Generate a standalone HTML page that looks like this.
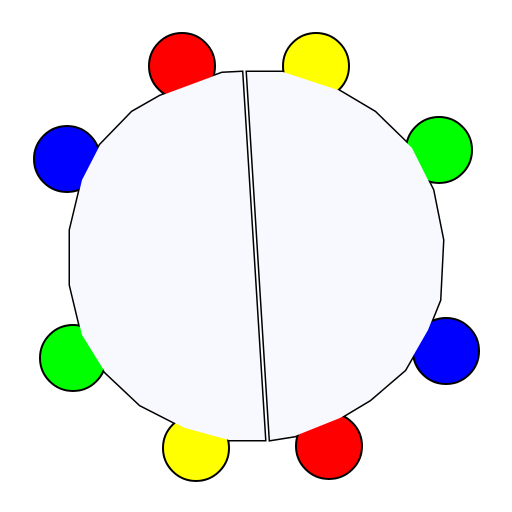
<!DOCTYPE html>
<html><head><style>html,body{margin:0;padding:0;background:#fff;width:512px;height:512px;overflow:hidden}</style></head>
<body>
<svg width="512" height="512" viewBox="0 0 512 512">
<defs>
<polygon id="lh" points="242,72 222,73 160,96 132,112 100,145 82,180 70,230 70,285 82,335 105,372 140,405 185,428 229,440 265,440"/>
<polygon id="rh" points="247,72 283,72 338,90 375,112 412,148 433,190 443,240 440,300 428,330 405,370 370,400 340,418 295,436 270,440"/>
</defs>
<g stroke="#000" stroke-width="3" fill="#f8f8ff">
<use href="#lh"/>
<use href="#rh"/>
</g>
<g stroke="#000" stroke-width="2">
<circle cx="182" cy="66" r="33" fill="#f00"/>
<circle cx="316" cy="66" r="33" fill="#ff0"/>
<circle cx="439" cy="150" r="33" fill="#0f0"/>
<circle cx="446" cy="351" r="33" fill="#00f"/>
<circle cx="329" cy="446" r="33" fill="#f00"/>
<circle cx="196" cy="448" r="33" fill="#ff0"/>
<circle cx="73" cy="358" r="33" fill="#0f0"/>
<circle cx="67" cy="159" r="33" fill="#00f"/>
</g>
<g fill="#f8f8ff" stroke="none">
<use href="#lh"/>
<use href="#rh"/>
</g>
</svg>
</body></html>
